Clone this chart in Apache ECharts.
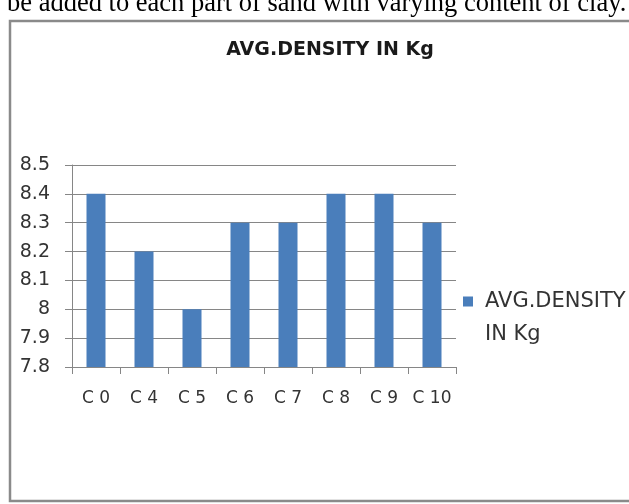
<!DOCTYPE html>
<html>
<head>
<meta charset="utf-8">
<script src="https://cdn.jsdelivr.net/npm/echarts@6/dist/echarts.min.js"></script>
<style>
  html, body { margin: 0; padding: 0; background: #ffffff; }
  #chart { width: 629px; height: 504px; }
</style>
</head>
<body>
<div id="chart"></div>
<script>
const categories = ['C 0', 'C 4', 'C 5', 'C 6', 'C 7', 'C 8', 'C 9', 'C 10'];
const densities = [8.4, 8.2, 8.0, 8.3, 8.3, 8.4, 8.4, 8.3];
const seriesName = 'AVG.DENSITY IN Kg';
const chartTitle = 'AVG.DENSITY IN Kg';
const yMin = 7.8, yMax = 8.5, yStep = 0.1;
const pageText = 'be added to each part of sand with varying content of clay.';

const chart = echarts.init(document.getElementById('chart'), null, { renderer: 'canvas' });
const font = '"DejaVu Sans", "Open Sans", sans-serif';
chart.setOption({
  animation: false,
  backgroundColor: '#ffffff',
  graphic: [
    { type: 'text', x: 7, y: 4.5, style: { text: pageText, font: '26.5px "Liberation Serif", "Times New Roman", serif', fill: '#000', verticalAlign: 'middle' } },
    { type: 'rect', shape: { x: 10, y: 21, width: 700, height: 480 }, style: { fill: 'none', stroke: '#8a8a8a', lineWidth: 2.5 } }
  ],
  title: {
    text: chartTitle, left: 325, top: 36, textAlign: 'center',
    textStyle: { fontFamily: font, fontWeight: 'bold', fontSize: 19, color: '#1a1a1a' }
  },
  legend: {
    left: 463, top: 285, padding: 0, itemWidth: 17, itemHeight: 43,
    icon: 'path://M0,0h10v10h-10z M16.99,42.99h0.01v0.01h-0.01z',
    formatter: n => n.replace(' IN', '\nIN'),
    textStyle: { fontFamily: font, fontSize: 21, color: '#333333', lineHeight: 33 }
  },
  grid: { left: 72, top: 165, width: 384, height: 202, containLabel: false },
  xAxis: {
    type: 'category', data: categories,
    axisLine: { show: true, lineStyle: { color: '#868686', width: 1 } },
    axisTick: { show: true, length: 7, lineStyle: { color: '#868686' } },
    axisLabel: { interval: 0, margin: 23, fontFamily: font, fontSize: 17, color: '#333333' }
  },
  yAxis: {
    type: 'value', min: yMin, max: yMax, interval: yStep,
    axisLine: { show: true, lineStyle: { color: '#868686', width: 1 } },
    axisTick: { show: true, length: 7, lineStyle: { color: '#868686' } },
    splitLine: { show: true, lineStyle: { color: '#868686', width: 1 } },
    axisLabel: { margin: 22, fontFamily: font, fontSize: 19, color: '#333333',
      formatter: v => String(Math.round(v * 10) / 10) }
  },
  series: [{
    name: seriesName, type: 'bar', data: densities,
    barWidth: 19, itemStyle: { color: '#4a7ebb' }
  }]
});
</script>
</body>
</html>
